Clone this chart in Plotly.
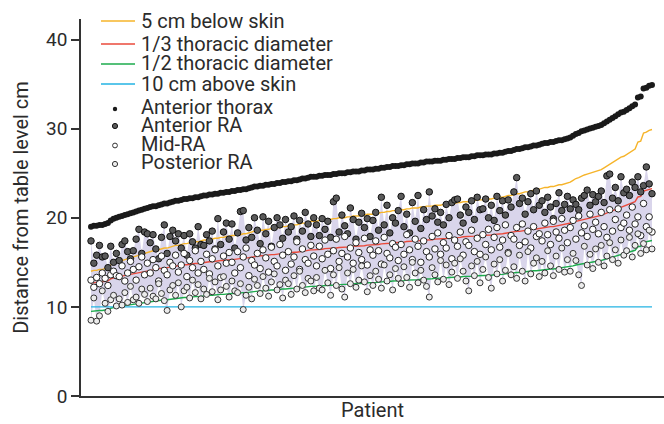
import plotly.graph_objects as go

# ---------------- data (cm), one value per patient ----------------
anterior_thorax = [
    19.0, 19.1, 19.1, 19.2, 19.2, 19.3, 19.4,
    19.7, 19.9, 20.0, 20.1, 20.2,
    20.3, 20.4, 20.5, 20.6, 20.7, 20.8, 20.9, 21.0, 21.1,
    21.2, 21.3, 21.3, 21.4, 21.5, 21.6, 21.6, 21.7, 21.8, 21.9, 21.9, 22.0,
    22.1, 22.1, 22.2, 22.2, 22.3, 22.3, 22.4, 22.5,
    22.5, 22.6, 22.6, 22.7, 22.7, 22.8, 22.8, 22.9, 22.9, 23.0, 23.0, 23.1, 23.1, 23.2, 23.2, 23.3, 23.4, 23.5,
    23.5, 23.6, 23.6, 23.7, 23.7, 23.8, 23.8, 23.9, 23.9, 24.0, 24.0, 24.1, 24.1, 24.2, 24.2, 24.3, 24.4, 24.4, 24.5, 24.6,
    24.6, 24.6, 24.7, 24.7, 24.8, 24.8, 24.8, 24.9, 24.9, 25.0, 25.0, 25.0, 25.1, 25.1, 25.2, 25.2, 25.2, 25.3, 25.3, 25.4, 25.4,
    25.4, 25.5, 25.5, 25.6, 25.6, 25.7, 25.7, 25.8, 25.8, 25.8, 25.9, 25.9, 26.0, 26.0, 26.1, 26.1, 26.1, 26.2, 26.2, 26.3, 26.3,
    26.3, 26.4, 26.4, 26.4, 26.5, 26.5, 26.6, 26.6, 26.6, 26.7, 26.7, 26.8, 26.8, 26.8, 26.9, 26.9, 27.0, 27.0, 27.0, 27.1, 27.1,
    27.1, 27.2, 27.2, 27.3, 27.3, 27.4, 27.5, 27.5, 27.6, 27.7, 27.7, 27.8, 27.9, 27.9, 28.0, 28.1, 28.1, 28.2, 28.3, 28.4,
    28.4, 28.5, 28.5, 28.6, 28.7, 28.7, 28.8, 28.9, 29.0,
    29.2, 29.4, 29.5, 29.7,
    29.8, 29.9, 30.0, 30.1, 30.2, 30.3, 30.4,
    30.6, 30.8, 31.0, 31.2, 31.4, 31.6, 31.8,
    31.9, 32.1, 32.3,
    32.5, 32.7,
    33.5, 33.6,
    34.5, 34.6, 34.8, 34.9,
]

anterior_ra = [
    17.4, 14.9, 15.8, 16.9, 15.6, 15.7, 14.4, 16.8, 15.0, 16.0,
    15.2, 17.0, 17.4, 16.2, 15.4, 16.3, 17.6, 18.7, 16.0, 18.4,
    18.2, 17.2, 18.1, 16.5, 15.4, 17.8, 19.2, 16.0, 17.9, 18.6,
    17.4, 18.2, 16.6, 18.0, 15.8, 18.2, 17.3, 16.6, 19.0, 17.0,
    16.9, 18.1, 17.4, 18.5, 16.5, 19.9, 17.0, 18.4, 19.4, 17.6,
    19.3, 16.6, 18.3, 20.7, 20.8, 17.5, 18.9, 17.8, 20.0, 18.6,
    17.1, 20.1, 18.2, 19.6, 16.8, 18.9, 20.0, 19.2, 17.7, 19.8,
    18.4, 19.0, 20.2, 17.6, 19.7, 18.5, 20.6, 19.3, 17.9, 20.0,
    19.2, 18.0, 19.9, 18.7, 19.6, 17.8, 21.8, 22.2, 18.4, 20.3,
    19.1, 18.2, 21.1, 19.8, 17.6, 19.5, 20.5, 18.9, 19.9, 17.9,
    19.7, 20.6, 18.6, 22.3, 19.2, 21.4, 18.3, 20.0, 19.4, 20.8,
    22.4, 19.0, 20.4, 18.3, 21.7, 19.6, 22.5, 18.8, 20.9, 19.8,
    22.9, 20.2, 21.0, 19.5, 20.6, 19.2, 21.5, 20.0, 21.7, 22.0,
    22.1, 20.3, 19.4, 21.2, 20.6, 21.9, 19.8, 22.3, 20.9, 21.0,
    22.1, 20.0, 21.4, 19.7, 22.4, 20.8, 21.9, 20.3, 22.0, 21.2,
    22.9, 24.5, 21.6, 22.2, 20.4, 21.8, 22.7, 20.9, 23.0, 21.4,
    21.9, 20.6, 22.3, 21.2, 19.9, 21.6, 22.8, 20.8, 21.5, 22.4,
    21.0, 22.0, 21.5, 20.9, 22.2, 22.5, 23.1, 21.4, 22.6, 21.8,
    22.4, 23.0, 21.7, 24.7, 24.9, 22.2, 23.4, 21.9, 24.6, 22.8,
    23.2, 22.5, 24.0, 23.4, 24.6, 22.9, 23.6, 25.7, 23.8, 22.7,
]

mid_ra = [
    13.0, 12.2, 13.3, 12.6, 13.8, 13.2, 12.4, 13.6, 14.0, 13.5,
    13.4, 14.6, 12.9, 13.8, 15.1, 14.2, 13.0, 14.5, 15.6, 13.6,
    14.9, 13.8, 15.3, 14.4, 12.9, 15.7, 14.1, 13.6, 15.0, 14.6,
    15.8, 13.9, 14.7, 16.0, 13.4, 15.2, 14.4, 16.3, 13.8, 15.1,
    14.2, 15.9, 13.7, 15.4, 16.4, 14.6, 13.3, 15.7, 14.9, 16.1,
    15.0, 13.8, 16.2, 14.4, 15.6, 16.6, 13.5, 15.2, 14.7, 16.0,
    14.3, 16.4, 15.5, 13.9, 16.7, 15.1, 14.6, 17.0, 15.8, 14.1,
    16.2, 14.8, 15.6, 17.3, 14.2, 16.5, 15.3, 14.9, 16.9, 15.7,
    14.6, 16.8, 15.4, 17.5, 15.9, 14.3, 16.3, 17.6, 15.1, 16.0,
    17.9, 15.6, 16.6, 14.9, 17.2, 16.1, 15.3, 17.7, 14.7, 16.4,
    15.8, 17.4, 16.3, 14.8, 17.8, 16.0, 15.5, 17.1, 16.7, 15.2,
    17.0, 15.9, 18.1, 16.4, 15.3, 17.6, 16.8, 15.0, 17.4, 16.2,
    15.6, 17.9, 16.5, 18.3, 15.9, 17.2, 16.6, 18.0, 15.4, 17.5,
    16.8, 18.4, 15.8, 17.3, 16.9, 18.6, 16.2, 17.7, 15.9, 18.1,
    17.0, 18.7, 16.4, 17.8, 18.9, 16.7, 17.5, 19.2, 16.1, 18.0,
    17.6, 18.9, 16.9, 19.3, 17.3, 18.5, 16.6, 19.0, 17.9, 18.2,
    17.4, 19.4, 18.1, 17.0, 19.6, 18.4, 17.7, 19.9, 18.6, 17.2,
    18.9, 19.7, 17.6, 20.2, 18.3, 19.1, 17.9, 20.4, 18.7, 19.5,
    18.2, 20.6, 19.0, 17.8, 20.9, 18.5, 19.8, 21.0, 18.9, 19.4,
    20.3, 18.6, 21.2, 19.3, 20.1, 18.0, 21.6, 19.0, 20.1, 18.4,
]

posterior_ra = [
    8.5, 11.0, 8.4, 9.0, 11.8, 10.4, 9.5, 10.8, 11.3, 10.1,
    10.9, 10.2, 11.6, 10.5, 12.3, 10.8, 11.1, 10.4, 12.0, 11.4,
    10.6, 12.1, 11.2, 10.9, 12.6, 11.5, 10.7, 9.6, 11.9, 12.4,
    11.3, 12.7, 10.0, 11.8, 12.2, 11.0, 13.0, 11.6, 12.5, 10.9,
    12.0, 11.4, 13.2, 11.7, 12.8, 10.8, 11.9, 13.4, 12.3, 11.1,
    12.9, 11.8, 11.6, 12.6, 9.7, 11.3, 12.2, 10.9, 13.1, 12.4,
    11.5, 13.4, 12.1, 11.2, 12.8, 13.7, 11.9, 12.5, 11.0, 13.0,
    12.6, 11.4, 13.5, 12.0, 14.0, 12.4, 11.6, 13.2, 12.9, 11.8,
    13.3, 12.1, 11.9, 14.1, 12.7, 11.3, 13.6, 12.4, 14.4, 12.0,
    11.1, 13.8, 12.6, 14.2, 12.2, 13.0, 14.6, 12.8, 11.7, 13.5,
    12.4, 14.0, 13.1, 12.1, 14.7, 12.9, 13.6, 11.9, 14.3, 13.2,
    12.6, 14.5, 13.3, 12.2, 15.0, 13.8, 12.7, 14.1, 13.0, 12.3,
    11.1, 14.4, 13.6, 12.8, 15.2, 13.1, 14.7, 12.5, 13.9, 14.9,
    13.2, 15.4, 14.0, 12.9, 11.8, 14.6, 13.5, 15.1, 12.7, 14.2,
    15.6, 13.3, 12.1, 14.8, 13.7, 15.3, 12.9, 14.1, 16.0, 13.6,
    14.5, 13.2, 15.8, 14.0, 12.9, 16.2, 13.7, 14.9, 15.5, 13.4,
    15.1, 13.8, 16.3, 14.6, 13.5, 15.7, 14.2, 16.6, 13.9, 15.3,
    14.0, 16.0, 15.2, 13.6, 12.4, 16.8, 14.7, 15.9, 14.3, 16.5,
    15.0, 16.9, 14.6, 15.7, 17.2, 15.3, 16.4, 14.9, 17.5, 15.8,
    16.3, 17.8, 15.6, 16.9, 18.2, 16.0, 17.1, 16.4, 18.6, 16.5,
]

patients = list(range(1, len(anterior_thorax) + 1))

# reference lines, by their definitions relative to the anterior thorax
five_below_skin = [t - 5 for t in anterior_thorax]
third_diameter = [t * 2 / 3 for t in anterior_thorax]
half_diameter = [t / 2 for t in anterior_thorax]
ten_above = [10 for _ in anterior_thorax]

y_ticks = [0, 10, 20, 30, 40]

line_names = ["5 cm below skin", "1/3 thoracic diameter",
              "1/2 thoracic diameter", "10 cm above skin"]
marker_names = ["Anterior thorax", "Anterior RA", "Mid-RA", "Posterior RA"]

FONT = "Roboto, 'DejaVu Sans', sans-serif"
TXT = "#2b2b2b"
C_YEL, C_RED, C_GRN, C_CYA = "#f6b42a", "#ea4a3b", "#1cab4c", "#23b3e3"

# figure geometry (pixels)
W, H = 664, 424
ML, MR, MT, MB = 81, 0, 19, 28
PW, PH = W - ML - MR, H - MT - MB

fig = go.Figure()

# lavender band between posterior and anterior RA of each patient
fig.add_trace(go.Scatter(x=patients, y=posterior_ra, mode="lines",
                         line=dict(width=0), showlegend=False, hoverinfo="skip"))
fig.add_trace(go.Scatter(x=patients, y=anterior_ra, mode="lines",
                         line=dict(width=0), fill="tonexty",
                         fillcolor="rgba(208,203,230,0.8)",
                         showlegend=False, hoverinfo="skip"))

for name, vals, col in zip(line_names,
                           [five_below_skin, third_diameter, half_diameter, ten_above],
                           [C_YEL, C_RED, C_GRN, C_CYA]):
    fig.add_trace(go.Scatter(x=patients, y=vals, mode="lines", name=name,
                             line=dict(color=col, width=1.4)))

marker_styles = [
    dict(color="#1a1a1a", size=6, line=dict(width=0)),
    dict(color="#5a5a5a", size=6.5, line=dict(color="#111111", width=1)),
    dict(color="#ffffff", size=6.5, line=dict(color="#222222", width=1)),
    dict(color="#ececec", size=6, line=dict(color="#333333", width=1)),
]
for name, vals, mk in zip(marker_names,
                          [anterior_thorax, anterior_ra, mid_ra, posterior_ra],
                          marker_styles):
    fig.add_trace(go.Scatter(x=patients, y=vals, mode="markers", name=name, marker=mk))

# ---------------- hand-built legend (tight rows like the original) ----------------
def px(xp):
    return (xp - ML) / PW

def py(yp):
    return (H - MB - yp) / PH

shapes, annotations = [], []
line_rows = [21, 44, 64, 84]
for yy, col in zip(line_rows, [C_YEL, C_RED, C_GRN, C_CYA]):
    shapes.append(dict(type="line", xref="paper", yref="paper",
                       x0=px(101), x1=px(135), y0=py(yy), y1=py(yy),
                       line=dict(color=col, width=1.4)))
marker_rows = [109, 126, 145.5, 164]
legend_marks = [
    dict(r=2.2, fill="#1a1a1a", lc="#1a1a1a", lw=0),
    dict(r=2.6, fill="#5a5a5a", lc="#111111", lw=1),
    dict(r=2.4, fill="#ffffff", lc="#333333", lw=1),
    dict(r=2.6, fill="#ececec", lc="#333333", lw=1),
]
for yy, m in zip(marker_rows, legend_marks):
    shapes.append(dict(type="circle", xref="paper", yref="paper",
                       xsizemode="pixel", ysizemode="pixel",
                       xanchor=px(115), yanchor=py(yy),
                       x0=-m["r"], x1=m["r"], y0=-m["r"], y1=m["r"],
                       fillcolor=m["fill"],
                       line=dict(color=m["lc"], width=m["lw"])))
text_rows = [20.5, 44.5, 63.5, 83.5, 107, 125, 143.5, 162]
for yy, name in zip(text_rows, line_names + marker_names):
    annotations.append(dict(text=name, xref="paper", yref="paper",
                            x=px(139), y=py(yy), xanchor="left", yanchor="middle",
                            showarrow=False, font=dict(size=20, color=TXT, family=FONT)))

fig.update_layout(
    width=W, height=H,
    margin=dict(l=ML, r=MR, t=MT, b=MB),
    paper_bgcolor="white", plot_bgcolor="white",
    font=dict(family=FONT, color=TXT, size=20),
    showlegend=False,
    shapes=shapes, annotations=annotations,
    xaxis=dict(range=[-2.55, 204.26], showticklabels=False, ticks="",
               showgrid=False, zeroline=False, showline=True,
               linecolor="#333333", linewidth=1.5,
               title=dict(text="Patient", font=dict(size=20, color=TXT), standoff=6)),
    yaxis=dict(range=[0, 42.3], tickvals=y_ticks, ticks="outside", ticklen=8,
               tickwidth=1.5, tickcolor="#333333",
               showgrid=False, zeroline=False, showline=True,
               linecolor="#333333", linewidth=1.5,
               tickfont=dict(size=19, color=TXT),
               title=dict(text="Distance from table level cm",
                          font=dict(size=20, color=TXT), standoff=12)),
)

fig.write_html("out.html", config={"displayModeBar": False},
               post_script="document.body.style.margin='0px';")
